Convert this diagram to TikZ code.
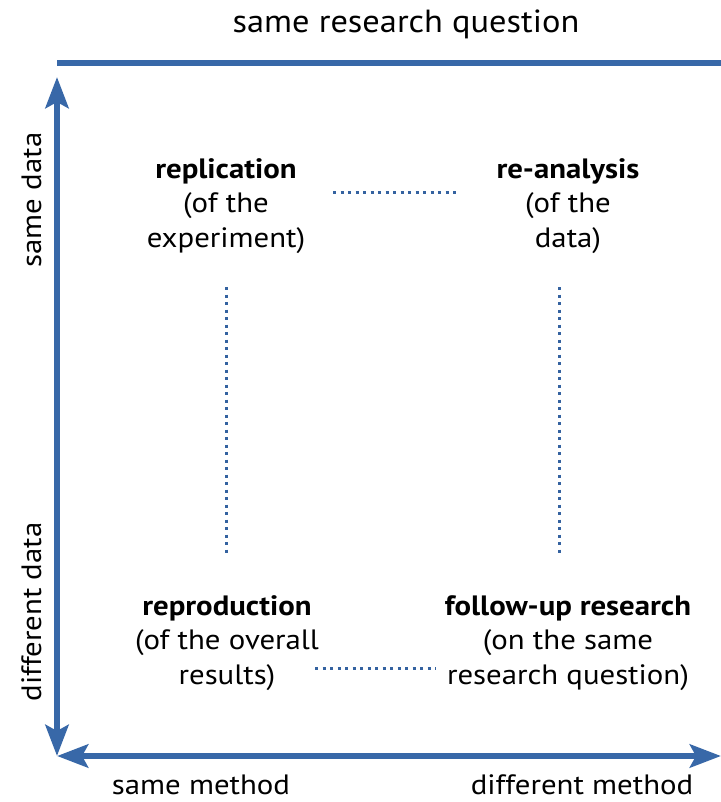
\documentclass[tikz,border=0pt]{standalone}
\usepackage{fontspec}
\setmainfont[FakeStretch=1.1]{PT Sans}
\newfontfamily\titlefont[FakeStretch=1.075]{PT Sans}
\usetikzlibrary{arrows.meta}
\definecolor{axisblue}{RGB}{56,104,168}
\definecolor{dotblue}{RGB}{52,98,160}
\tikzset{
  axisline/.style={draw=axisblue, line width=6.5pt},
  axisarrows/.style={axisline, {Stealth[length=31pt,width=23pt,inset=6pt]}-{Stealth[length=31pt,width=23pt,inset=6pt]}},
  dotline/.style={draw=dotblue, line width=3pt, dash pattern=on 3pt off 4.5pt},
  lbl/.style={font=\fontsize{28}{34}\selectfont, inner sep=0pt, anchor=base},
  box/.style={font=\fontsize{28}{34.5}\selectfont, align=center, inner sep=0pt},
}
\begin{document}
\begin{tikzpicture}[x=1pt,y=-1pt]
\useasboundingbox (0,0) rectangle (720,802);
% axes
\coordinate (tl) at (57,63);
\coordinate (tr) at (722,63);
\coordinate (vt) at (57,77);
\coordinate (vb) at (57,756);
\coordinate (hl) at (57,756);
\coordinate (hr) at (721,756);
\draw[axisline] (tl) -- (tr);
\draw[axisarrows] (vb) -- (vt);
\draw[axisarrows] (hl) -- (hr);
% axis labels
\node[lbl, font=\titlefont\fontsize{32}{38}\selectfont] (top) at (406,33) {same research question};
\node[lbl, rotate=90] (sd) at (41,200) {same data};
\node[lbl, rotate=90] (dd) at (41,612) {different data};
\node[lbl, text depth=0pt] (sm) at (201,794) {same method};
\node[lbl, text depth=0pt] (dm) at (582,794) {different method};
% quadrants
\node[box] (repl) at (226,206) {\textbf{replication}\\(of the\\experiment)};
\node[box] (rean) at (568,206) {\textbf{re-analysis}\\(of the\\data)};
\node[box] (repr) at (227,643) {\textbf{reproduction}\\(of the overall\\results)};
\node[box] (foll) at (568,643) {\textbf{follow-up research}\\(on the same\\research question)};
% dotted connectors
\coordinate (a1) at (333,193);
\coordinate (a2) at (456,193);
\coordinate (b1) at (226,287);
\coordinate (b2) at (226,553);
\coordinate (c1) at (559,287);
\coordinate (c2) at (559,553);
\coordinate (d1) at (315,668);
\coordinate (d2) at (436,668);
\draw[dotline] (a1) -- (a2);
\draw[dotline] (b1) -- (b2);
\draw[dotline] (c1) -- (c2);
\draw[dotline] (d1) -- (d2);
\end{tikzpicture}
\end{document}
